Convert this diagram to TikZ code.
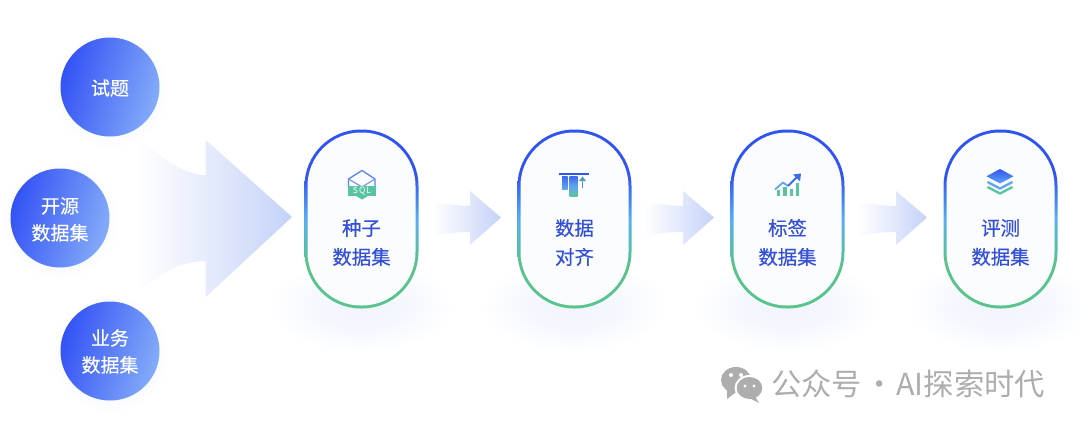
\documentclass[tikz,border=0pt]{standalone}
\usepackage{fontspec}
\setmainfont{Noto Sans CJK SC}
\newfontfamily\cjkm[FakeBold=0.45]{Noto Sans CJK SC}
\newfontfamily\cjkd[FakeBold=0.2]{Noto Sans CJK SC}
\newfontfamily\sqlf[LetterSpace=12]{Noto Sans CJK SC}
\usetikzlibrary{calc}
\definecolor{pBlue}{HTML}{2F54F2}
\definecolor{pMid}{HTML}{55AEF2}
\definecolor{pGreen}{HTML}{58C48C}
\definecolor{cDark}{HTML}{3352F5}
\definecolor{cLight}{HTML}{84ACF9}
\definecolor{txtBlue}{HTML}{3450D6}
\definecolor{arrowEnd}{HTML}{C4D2F8}
\definecolor{arrowMid}{HTML}{E6EBFC}
\definecolor{glow}{HTML}{F2F5FE}
\definecolor{glowc}{HTML}{E9EEFD}
\definecolor{pillBack}{HTML}{FBFCFF}
\definecolor{wm}{HTML}{ADADAD}
\definecolor{iconBlue}{HTML}{3E6CEC}
\definecolor{iconSky}{HTML}{62A6F0}
\definecolor{iconTeal}{HTML}{58C4A0}
\pgfdeclareverticalshading{pillgrad}{100bp}{color(0bp)=(pGreen);color(25bp)=(pGreen);color(38bp)=(pGreen);color(50bp)=(pMid);color(62bp)=(pBlue);color(75bp)=(pBlue);color(100bp)=(pBlue)}
\pgfdeclareverticalshading{iconbar}{100bp}{color(0bp)=(iconTeal);color(25bp)=(iconTeal);color(50bp)=(iconSky);color(75bp)=(iconBlue);color(100bp)=(iconBlue)}
\pgfdeclarehorizontalshading{flowgrad}{100bp}{color(0bp)=(white);color(25bp)=(white);color(32bp)=(white);color(52bp)=(arrowMid);color(75bp)=(arrowEnd);color(100bp)=(arrowEnd)}
\pgfdeclareradialshading{softglow}{\pgfpoint{0bp}{0bp}}{color(0bp)=(glow);color(12bp)=(glow!80!white);color(25bp)=(white);color(50bp)=(white)}
\tikzset{
  srcdisc/.style={circle,minimum size=99pt,inner sep=0pt,left color=cDark,right color=cLight,shading angle=73},
  disctext/.style={text=white,font=\fontsize{19}{27}\cjkd,align=center,inner sep=0pt},
  pillouter/.style={rectangle,rounded corners=56.5pt,minimum width=114pt,minimum height=179pt,inner sep=0pt,shading=pillgrad},
  pilltext/.style={text=txtBlue,font=\fontsize{19.4}{29}\cjkm,align=center,inner sep=0pt},
  flow/.style={shading=flowgrad,draw=none},
}
\begin{document}
\begin{tikzpicture}[x=1pt,y=-1pt]
\useasboundingbox (0,0) rectangle (1080,428);
% big arrow
\shade[flow] (143,142) .. controls (165,160) and (185,175) .. (205.7,175) -- (205.7,140) -- (292,217) -- (205.7,297) -- (205.7,261) .. controls (175,261) and (150,280) .. (130,302) -- (112,217) -- cycle;
% soft glows under the discs
\foreach \cx/\cy in {110/90,60/221,110/354}{
  \shade[inner color=glowc,outer color=white] (\cx,\cy) circle (60);
}
% discs
\node[srcdisc] (d1) at (110,87) {};
\node[srcdisc] (d2) at (60,218) {};
\node[srcdisc] (d3) at (110,351) {};
\node[disctext] (t1) at (110,88) {试题};
\node[disctext] (t2) at (60,219.5) {开源\\数据集};
\node[disctext] (t3) at (110,351.5) {业务\\数据集};
% pills and arrows
\foreach \o/\n/\lab in {0/a/{种子\\数据集},213/b/{数据\\对齐},426/c/{标签\\数据集},639/e/{评测\\数据集}}{
  \begin{scope}[shift={(\o,0)}]
    \shade[shading=softglow] (361,306) ellipse (92 and 46);
    \node[pillouter] (po\n) at (361.5,219) {};
    \fill[pillBack] ($(po\n.north west)+(3.2,3.2)$) [rounded corners=53.5pt] rectangle ($(po\n.south east)+(-3.2,-3.2)$);
    \node[pilltext] (pt\n) at (361.5,242.5) {\lab};
  \end{scope}
}
\foreach \o in {0,213,426}{
  \begin{scope}[shift={(\o,0)}]
    \shade[flow] (420,203) -- (436,203) .. controls (448,204) and (460,206) .. (470,206) -- (470,191) -- (501,217.5) -- (470,245) -- (470,232) .. controls (458,232) and (447,233) .. (436,236) -- (420,236) -- cycle;
  \end{scope}
}
% icon 1: SQL box
\draw[iconBlue!85,line width=1.3pt,line join=round] (348.5,187) -- (348.5,179) -- (362,170.5) -- (375,179) -- (375,187);
\draw[iconBlue!70,line width=1.2pt,line join=round] (348.5,179) -- (362,187) -- (375,179);
\fill[iconTeal] (347.5,186) rectangle (376,196);
\fill[iconTeal] (356,196) -- (368,196) -- (362,199.5) -- cycle;
\node[text=white,font=\fontsize{8.5}{8.5}\sqlf,inner sep=0pt] (sql) at (362,191) {SQL};
% icon 2: alignment
\fill[pBlue] (559,173) rectangle (589,175);
\shade[top color=iconBlue,bottom color=iconSky] (562,176.5) rectangle (567.5,189);
\shade[shading=iconbar] (569.5,176.5) rectangle (577.5,196);
\draw[iconTeal!60!iconBlue,line width=1.3pt] (582.5,187.5) -- (582.5,179);
\fill[iconTeal!60!iconBlue] (579,181) -- (582.5,176.5) -- (586,181) -- cycle;
% icon 3: rising chart
\fill[iconTeal] (776.5,190) rectangle (780,195.5);
\fill[iconTeal] (783,187) rectangle (786.5,195.5);
\fill[iconTeal] (789.5,189) rectangle (793,195.5);
\fill[iconTeal] (795.5,183) rectangle (799,195.5);
\draw[iconSky,line width=1.8pt,line join=round] (775,189.5) -- (783,182.5) -- (788,186);
\draw[iconBlue,line width=1.8pt,line join=round] (788,186) -- (797,177);
\fill[iconBlue] (793,174.5) -- (801,173.5) -- (800,181.5) -- cycle;
% icon 4: layers
\draw[iconTeal,line width=2.4pt,line join=round] (987.5,187) -- (1000,193.5) -- (1012.5,187);
\draw[iconSky,line width=2.4pt,line join=round] (987.5,182) -- (1000,188.5) -- (1012.5,182);
\shade[top color=pBlue,bottom color=iconSky] (1000,169) -- (1013.5,176.3) -- (1000,183.5) -- (986.5,176.3) -- cycle;
% watermark
\fill[wm] (736,380) ellipse (15 and 13);
\fill[wm] (727,390) -- (727,399) -- (735,393) -- cycle;
\fill[white] (749.5,388) ellipse (15 and 13);
\fill[wm] (749.5,388) ellipse (12.8 and 11);
\fill[wm] (755,396) -- (759,403) -- (749,398) -- cycle;
\fill[white] (731,375) circle (2) (741,375) circle (2) (745,386) circle (1.6) (754,386) circle (1.6);
\node[anchor=west,text=wm,font=\fontsize{30.3}{30}\selectfont,inner sep=0pt] (wmt) at (771,383.5) {公众号\hspace{2pt}·\hspace{2pt}AI探索时代};
\end{tikzpicture}
\end{document}
